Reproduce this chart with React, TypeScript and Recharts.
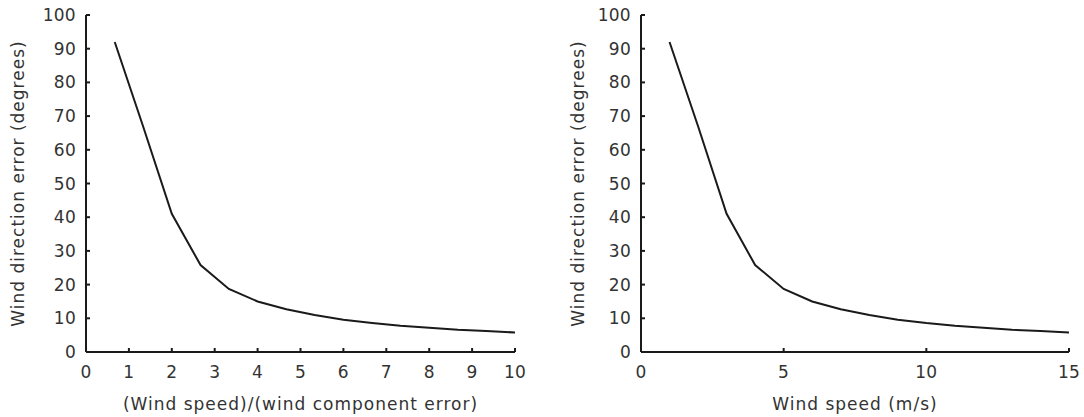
import React from 'react';
import { LineChart, Line, XAxis, YAxis } from 'recharts';

// wind speed (m/s) and the same points as speed / component error
const windSpeed = [1, 2, 3, 4, 5, 6, 7, 8, 9, 10, 11, 12, 13, 14, 15];
const speedRatio = [0.67, 1.33, 2, 2.67, 3.33, 4, 4.67, 5.33, 6, 6.67, 7.33, 8, 8.67, 9.33, 10];
const dirError = [92, 67, 41, 25.8, 18.7, 15, 12.7, 11, 9.6, 8.6, 7.8, 7.2, 6.6, 6.2, 5.8];

const yTicks = [0, 10, 20, 30, 40, 50, 60, 70, 80, 90, 100];
const ratioTicks = [0, 1, 2, 3, 4, 5, 6, 7, 8, 9, 10];
const speedTicks = [0, 5, 10, 15];

const ratioData = speedRatio.map((x, i) => ({ x, err: dirError[i] }));
const speedData = windSpeed.map((x, i) => ({ x, err: dirError[i] }));

const FONT = 'DejaVu Sans, Verdana, sans-serif';
const TEXT = '#333';
const tickStyle = { fontSize: 17, fill: TEXT, fontFamily: FONT, letterSpacing: 0.3 };
const labelStyle = { fontSize: 17, fill: TEXT, fontFamily: FONT, letterSpacing: 1 };
const axisLine = { stroke: '#1a1a1a', strokeWidth: 2 };

interface PanelProps {
  data: { x: number; err: number }[];
  width: number;
  left: number;
  marginRight: number;
  xMax: number;
  xTicks: number[];
  xLabel: string;
  yLabelOffset: number;
}

const Panel: React.FC<PanelProps> = ({ data, width, left, marginRight, xMax, xTicks, xLabel, yLabelOffset }) => (
  <div style={{ position: 'absolute', left, top: 0 }}>
    <LineChart width={width} height={417} data={data} margin={{ top: 15, right: marginRight, bottom: 7, left: 0 }}>
      <XAxis
        dataKey="x"
        type="number"
        domain={[0, xMax]}
        ticks={xTicks}
        interval={0}
        height={58}
        tickSize={-4}
        tickMargin={18}
        axisLine={axisLine}
        tickLine={axisLine}
        tick={tickStyle}
        label={{ value: xLabel, position: 'insideBottom', offset: 0, style: labelStyle }}
      />
      <YAxis
        type="number"
        domain={[0, 100]}
        ticks={yTicks}
        interval={0}
        width={86}
        tickSize={-4}
        tickMargin={14}
        axisLine={axisLine}
        tickLine={axisLine}
        tick={tickStyle}
        label={{
          value: 'Wind direction error (degrees)',
          angle: -90,
          position: 'insideLeft',
          offset: yLabelOffset,
          style: { ...labelStyle, textAnchor: 'middle' },
        }}
      />
      <Line dataKey="err" type="linear" stroke="#1a1a1a" strokeWidth={2} dot={false} isAnimationActive={false} />
    </LineChart>
  </div>
);

export default function App() {
  return (
    <div style={{ position: 'absolute', left: 0, top: 0, width: 1084, height: 417, background: '#fff' }}>
      <Panel
        data={ratioData}
        width={540}
        left={0}
        marginRight={25}
        xMax={10}
        xTicks={ratioTicks}
        xLabel="(Wind speed)/(wind component error)"
        yLabelOffset={18}
      />
      <Panel
        data={speedData}
        width={529}
        left={555}
        marginRight={15}
        xMax={15}
        xTicks={speedTicks}
        xLabel="Wind speed (m/s)"
        yLabelOffset={23}
      />
    </div>
  );
}
